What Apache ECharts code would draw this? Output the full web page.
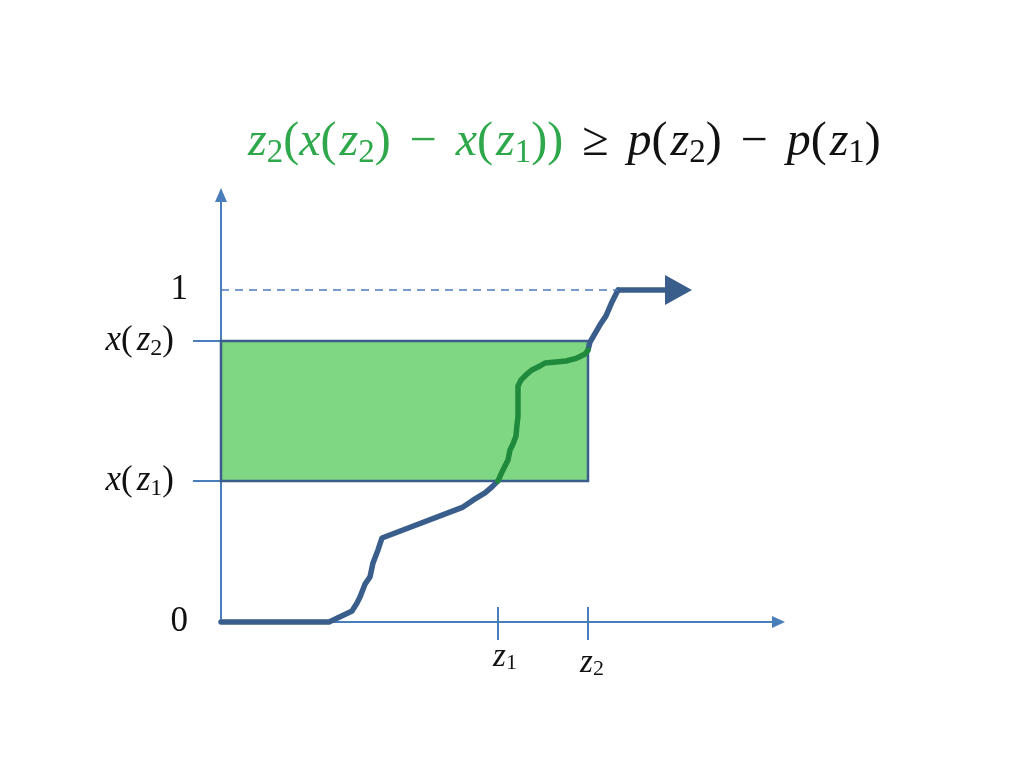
<!DOCTYPE html>
<html>
<head>
<meta charset="utf-8">
<script src="https://cdn.jsdelivr.net/npm/echarts@6/dist/echarts.min.js"></script>
<style>html,body{margin:0;padding:0;background:#fff}#c{width:1024px;height:768px}</style>
</head>
<body>
<div id="c"></div>
<script>
// ---- data (axis units) ----
const z1 = 2.77, z2 = 3.67;          // marked points on the horizontal axis
const xz1 = 0.425, xz2 = 0.846;      // x(z1), x(z2)
const xMax = 5.575, yMax = 1.286;    // axis extents (arrow positions)
const arrowX = 4.575;                // end of the curve's arrow

// blue parts of the curve (null separates the two blue pieces)
const blueX = [0, 1.08, 1.27, 1.31, 1.36, 1.39, 1.44, 1.49, 1.52, 1.57, 1.61, 2.42, 2.52, 2.64, 2.71, 2.77, null, 3.67, 3.69, 3.79, 3.85, 3.91, 3.97];
const blueY = [0, 0, 0.027, 0.033, 0.057, 0.075, 0.114, 0.136, 0.178, 0.217, 0.253, 0.346, 0.367, 0.389, 0.407, 0.425, null, 0.819, 0.843, 0.895, 0.922, 0.964, 1.0];
// green part of the curve (inside the rectangle)
const greenX = [2.77, 2.82, 2.87, 2.89, 2.92, 2.95, 2.96, 2.97, 2.97, 3.00, 3.05, 3.11, 3.19, 3.24, 3.35, 3.45, 3.56, 3.64, 3.67];
const greenY = [0.425, 0.458, 0.488, 0.518, 0.536, 0.560, 0.593, 0.620, 0.711, 0.729, 0.744, 0.759, 0.771, 0.780, 0.783, 0.786, 0.795, 0.807, 0.819];

const yLabelValues = [0, xz1, xz2, 1];
const xLabelValues = [z1, z2];

const AXIS = '#4a7ebb', CURVE = '#3a5e8c', GREEN_LINE = '#1f8a3b', FILL = '#7fd784', TGREEN = '#2ea84a';
const FONT = 'Liberation Serif';

const blueData = blueX.map((x, i) => x === null ? [null, null] : [x, blueY[i]]);
const greenData = greenX.map((x, i) => [x, greenY[i]]);

function near(a, b) { return Math.abs(a - b) < 1e-6; }

const yRich = {
  n: { fontFamily: FONT, fontSize: 35, fontWeight: 'normal', color: '#111', lineHeight: 40 },
  i: { fontFamily: FONT, fontSize: 35, fontWeight: 'normal', fontStyle: 'italic', color: '#111', lineHeight: 40 },
  s: { fontFamily: FONT, fontSize: 24, fontWeight: 'normal', color: '#111', lineHeight: 28, verticalAlign: 'bottom' },
  sp: { width: 4, lineHeight: 40 },
  gap: { width: 14, lineHeight: 40 }
};

const xRich = {
  i: { fontFamily: FONT, fontSize: 33, fontWeight: 'normal', fontStyle: 'italic', color: '#111', lineHeight: 36, verticalAlign: 'bottom' },
  s: { fontFamily: FONT, fontSize: 22, fontWeight: 'normal', color: '#111', lineHeight: 19, verticalAlign: 'bottom' },
  g1: { width: 14, lineHeight: 36, verticalAlign: 'bottom' },
  g2: { width: 8, lineHeight: 42, verticalAlign: 'bottom' }
};

const TS = 48, TSS = 33;
const titleRich = {
  gi: { fontFamily: FONT, fontSize: TS, fontWeight: 'normal', fontStyle: 'italic', color: TGREEN, lineHeight: 56 },
  gn: { fontFamily: FONT, fontSize: TS, fontWeight: 'normal', color: TGREEN, lineHeight: 56 },
  gs: { fontFamily: FONT, fontSize: TSS, fontWeight: 'normal', color: TGREEN, lineHeight: 32, verticalAlign: 'bottom' },
  bi: { fontFamily: FONT, fontSize: TS, fontWeight: 'normal', fontStyle: 'italic', color: '#111', lineHeight: 56 },
  bn: { fontFamily: FONT, fontSize: TS, fontWeight: 'normal', color: '#111', lineHeight: 56 },
  bs: { fontFamily: FONT, fontSize: TSS, fontWeight: 'normal', color: '#111', lineHeight: 32, verticalAlign: 'bottom' },
  sp: { width: 3, lineHeight: 56 },
  op: { width: 19, lineHeight: 56 }
};

const chart = echarts.init(document.getElementById('c'), null, { renderer: 'canvas' });
chart.setOption({
  animation: false,
  backgroundColor: '#fff',
  title: {
    left: 243, top: 109,
    text: '{gi|z}{gs|2}{gn|(}{gi|x}{gn|(}{sp|}{gi|z}{gs|2}{gn|)}{op|}{gn|−}{op|}{gi|x}{gn|(}{sp|}{gi|z}{gs|1}{gn|))}{op|}{bn|≥}{op|}{bi|p}{bn|(}{sp|}{bi|z}{bs|2}{bn|)}{op|}{bn|−}{op|}{bi|p}{bn|(}{sp|}{bi|z}{bs|1}{bn|)}',
    textStyle: { fontWeight: 'normal', rich: titleRich }
  },
  grid: { left: 221, right: 1024 - 778.5, top: 195, bottom: 146, containLabel: false, outerBoundsMode: 'none' },
  xAxis: [{
    type: 'value', min: 0, max: xMax,
    axisLine: { show: true, onZero: true, symbol: ['none', 'triangle'], symbolSize: [12, 13], lineStyle: { color: AXIS, width: 2 } },
    axisTick: { show: true, customValues: xLabelValues, length: 18, inside: false, lineStyle: { color: AXIS, width: 2 } },
    splitLine: { show: false },
    axisLabel: {
      customValues: xLabelValues, margin: 16,
      formatter: v => near(v, z1) ? '{g1|}{i|z}{s|1}' : '{g2|}{i|z}{s|2}',
      rich: xRich
    }
  }, {
    type: 'value', min: 0, max: xMax, position: 'bottom', gridIndex: 0,
    axisLine: { show: false },
    axisTick: { show: true, customValues: xLabelValues, length: 15, inside: true, lineStyle: { color: AXIS, width: 2 } },
    splitLine: { show: false },
    axisLabel: { show: false }
  }],
  yAxis: {
    type: 'value', min: 0, max: yMax,
    axisLine: { show: true, symbol: ['none', 'triangle'], symbolSize: [12, 14], lineStyle: { color: AXIS, width: 2 } },
    axisTick: { show: true, customValues: [xz1, xz2], length: 28, lineStyle: { color: AXIS, width: 2 } },
    splitLine: { show: false },
    axisLabel: {
      customValues: yLabelValues, margin: 33,
      formatter: v => {
        if (near(v, 0)) return '{n|0}';
        if (near(v, 1)) return '{n|1}';
        if (near(v, xz1)) return '{i|x}{n|(}{sp|}{i|z}{s|1}{n|)}{gap|}';
        return '{i|x}{n|(}{sp|}{i|z}{s|2}{n|)}{gap|}';
      },
      rich: yRich
    }
  },
  series: [{
    type: 'line', name: 'area', data: [], z: 1, silent: true,
    markArea: {
      silent: true,
      itemStyle: { color: FILL, opacity: 1, borderColor: CURVE, borderWidth: 2.5 },
      label: { show: false },
      data: [[{ coord: [0, xz1] }, { coord: [z2, xz2] }]]
    },
    markLine: {
      silent: true, symbol: ['none', 'none'], label: { show: false },
      lineStyle: { color: AXIS, width: 1.6, type: [8, 6] },
      data: [[{ coord: [0, 1] }, { coord: [blueX[blueX.length - 1], 1] }]]
    }
  }, {
    type: 'line', name: 'blue', data: blueData, z: 3, silent: true,
    symbol: 'none', connectNulls: false, clip: false,
    lineStyle: { color: CURVE, width: 5.5, join: 'round', cap: 'round' },
    markLine: {
      silent: true, symbol: ['none', 'triangle'], symbolSize: [30, 27], label: { show: false },
      lineStyle: { color: CURVE, width: 5.5, type: 'solid' },
      data: [[{ coord: [blueX[blueX.length - 1], 1] }, { coord: [arrowX, 1] }]]
    }
  }, {
    type: 'line', name: 'green', data: greenData, z: 4, silent: true,
    symbol: 'none', clip: false,
    lineStyle: { color: GREEN_LINE, width: 5.5, join: 'round', cap: 'round' }
  }]
});
</script>
</body>
</html>
